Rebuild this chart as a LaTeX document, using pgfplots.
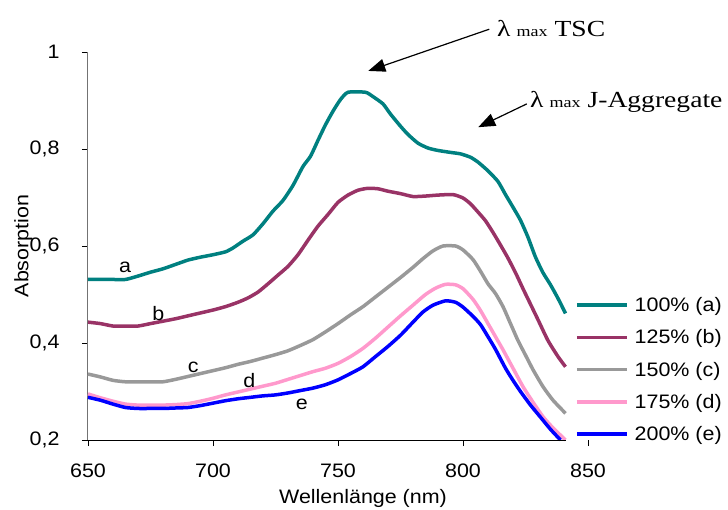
\documentclass[border=0pt]{standalone}
\usepackage{fontspec}
\setmainfont{Liberation Sans}[FakeStretch=1.1]
\newfontfamily\annofont{Liberation Serif}[FakeStretch=1.2]
\usepackage{pgfplots}
\pgfplotsset{compat=1.18}
\usetikzlibrary{arrows.meta}

\definecolor{cA}{HTML}{008080}
\definecolor{cB}{HTML}{993366}
\definecolor{cC}{HTML}{999999}
\definecolor{cD}{HTML}{FF99CC}
\definecolor{cE}{HTML}{0000FF}
\newcommand\lbl{\fontsize{19.5}{22}\selectfont}
\newcommand\ann{\annofont\fontsize{23}{25}\selectfont}
\newcommand\sub{\fontsize{15}{16}\selectfont}

\begin{document}
\begin{tikzpicture}
\path[use as bounding box] (-88pt,-69pt) rectangle (640pt,440pt);
\begin{axis}[
  at={(0pt,0pt)}, anchor=south west,
  scale only axis, width=500pt, height=388pt,
  xmin=650, xmax=850, ymin=0.2, ymax=1,
  clip=false,
  axis x line*=bottom, axis y line*=left,
  x axis line style={draw=none},
  y axis line style={-, draw=black!55, line width=1pt},
  xtick={650,700,750,800,850},
  ytick={0.2,0.4,0.6,0.8,1},
  tick align=outside, major tick length=6pt,
  tick style={black, line width=0.8pt},
  /pgf/number format/use comma,
  /pgf/number format/assume math mode=true,
  tick label style={font=\lbl},
  yticklabel style={xshift=-19pt},
  xticklabel style={anchor=base, yshift=-31pt},
  legend style={at={(rel axis cs:0.974,0.368)}, anchor=north west,
    draw=none, fill=none, inner sep=0pt, font=\lbl,
    nodes={inner sep=0pt}, row sep=16.6pt, column sep=6pt},
  legend cell align=left,
  legend image code/.code={\draw[#1] (0pt,0pt) -- (50pt,0pt);},
  every axis plot/.append style={line width=3.5pt, line join=round, smooth, tension=0.35},
]
% spectra, 650--841 nm
\addplot[cA] coordinates {
(650,0.531) (655,0.531) (660,0.531) (665,0.531) (670,0.538) (675,0.546)
(680,0.553) (685,0.562) (690,0.571) (695,0.577) (700,0.582) (705,0.588)
(708,0.596) (712,0.610) (716,0.623) (720,0.646) (724,0.672) (728,0.694)
(732,0.725) (736,0.764) (739,0.785) (742,0.818) (745,0.850) (748,0.878)
(751,0.902) (754,0.917) (761,0.917) (764,0.908) (768,0.893) (771,0.872)
(775,0.847) (778,0.830) (782,0.812) (786,0.802) (790,0.797) (795,0.793)
(799,0.790) (803,0.783) (806,0.773) (810,0.755) (814,0.733) (817,0.706)
(820,0.680) (823,0.653) (826,0.618) (829,0.577) (832,0.545) (835,0.520)
(838,0.492) (841,0.461)};
\addlegendentry{100\% (a)}
\addplot[cB] coordinates {
(650,0.443) (655,0.440) (660,0.435) (665,0.435) (670,0.435) (675,0.440)
(680,0.445) (685,0.450) (690,0.456) (695,0.462) (700,0.468) (705,0.475)
(710,0.484) (714,0.493) (718,0.505) (722,0.522) (726,0.540) (730,0.558)
(734,0.582) (738,0.612) (742,0.641) (746,0.665) (750,0.690) (754,0.705)
(758,0.715) (762,0.719) (766,0.718) (770,0.713) (775,0.708) (780,0.702)
(785,0.703) (790,0.705) (796,0.706) (800,0.699) (803,0.687) (806,0.670)
(809,0.652) (812,0.628) (815,0.602) (818,0.575) (821,0.545) (824,0.512)
(827,0.480) (830,0.448) (834,0.405) (838,0.372) (841,0.351)};
\addlegendentry{125\% (b)}
\addplot[cC] coordinates {
(650,0.336) (655,0.330) (660,0.323) (665,0.320) (670,0.320) (675,0.320)
(680,0.320) (685,0.325) (690,0.331) (695,0.337) (700,0.343) (705,0.349)
(710,0.356) (715,0.362) (720,0.369) (725,0.376) (730,0.384) (735,0.395)
(740,0.407) (745,0.423) (750,0.440) (755,0.458) (760,0.475) (765,0.495)
(770,0.515) (775,0.535) (780,0.556) (784,0.574) (788,0.590) (792,0.600)
(797,0.600) (800,0.592) (804,0.572) (807,0.548) (810,0.522) (813,0.502)
(816,0.475) (819,0.440) (822,0.405) (825,0.375) (828,0.345) (832,0.310)
(836,0.282) (841,0.255)};
\addlegendentry{150\% (c)}
\addplot[cD] coordinates {
(650,0.295) (655,0.287) (660,0.280) (665,0.274) (670,0.272) (675,0.272)
(680,0.272) (685,0.273) (690,0.275) (695,0.280) (700,0.286) (705,0.293)
(710,0.299) (715,0.305) (720,0.311) (725,0.317) (730,0.325) (735,0.333)
(740,0.341) (745,0.348) (750,0.358) (755,0.372) (760,0.389) (765,0.410)
(770,0.433) (775,0.456) (780,0.478) (785,0.500) (789,0.513) (793,0.521)
(797,0.520) (800,0.512) (804,0.490) (807,0.467) (810,0.440) (813,0.413)
(816,0.386) (820,0.348) (824,0.310) (828,0.278) (832,0.248) (836,0.225)
(841,0.200)};
\addlegendentry{175\% (d)}
\addplot[cE] coordinates {
(650,0.288) (655,0.282) (660,0.274) (665,0.267) (670,0.265) (675,0.265)
(680,0.265) (685,0.266) (690,0.267) (695,0.271) (700,0.276) (705,0.281)
(710,0.285) (715,0.288) (720,0.291) (725,0.293) (730,0.297) (735,0.302)
(740,0.307) (745,0.314) (750,0.324) (755,0.337) (760,0.351) (765,0.372)
(770,0.393) (775,0.416) (780,0.443) (784,0.464) (788,0.478) (793,0.487)
(797,0.484) (800,0.474) (804,0.455) (807,0.438) (810,0.413) (813,0.387)
(817,0.348) (820,0.323) (823,0.300) (827,0.272) (831,0.247) (835,0.222)
(839,0.200)};
\addlegendentry{200\% (e)}

% x axis line (data range only)
\draw[black, line width=1pt] (axis cs:650,0.2) -- (axis cs:841,0.2);

% axis titles
\node[font=\lbl, anchor=base, inner sep=0pt] at (axis cs:760,0.2) [yshift=-63pt] {Wellenlänge (nm)};
\node[font=\lbl, anchor=base, inner sep=0pt, rotate=90] at (rel axis cs:-0.1194,0.5) {Absorption};

% curve letters
\node[font=\lbl] at (axis cs:664.8,0.555) {a};
\node[font=\lbl] at (axis cs:678.1,0.461) {b};
\node[font=\lbl] at (axis cs:692.1,0.350) {c};
\node[font=\lbl] at (axis cs:714.5,0.322) {d};
\node[font=\lbl] at (axis cs:735.5,0.274) {e};

% band maxima
\draw[line width=1.2pt, -{Triangle[length=17pt,width=13pt]}] (axis cs:810.5,1.047) -- (axis cs:762.1,0.961);
\draw[line width=1.2pt, -{Triangle[length=17pt,width=13pt]}] (axis cs:825.5,0.893) -- (axis cs:806.1,0.845);
\node[font=\ann, anchor=base west, inner sep=0pt] at (axis cs:813.6,1.033) {λ\hspace{6pt}{\sub max}\hspace{7pt}TSC};
\node[font=\ann, anchor=base west, inner sep=0pt] at (axis cs:826.8,0.885) {λ\hspace{6pt}{\sub max}\hspace{7pt}J-Aggregate};
\end{axis}
\end{tikzpicture}
\end{document}
